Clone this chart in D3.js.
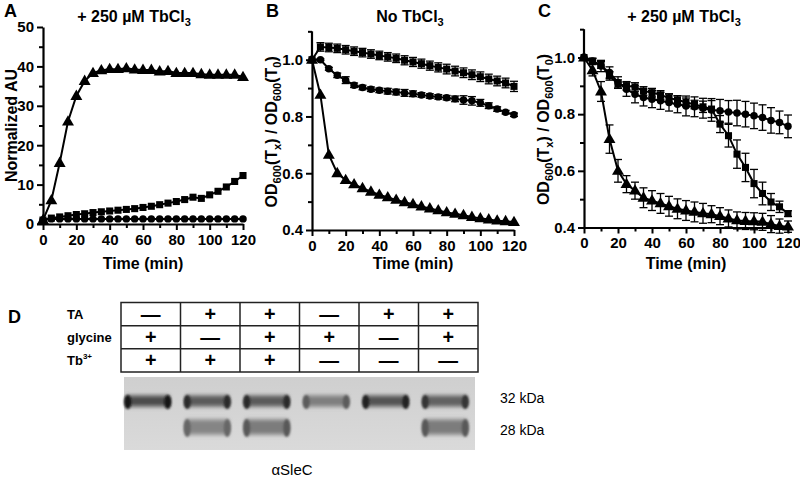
<!DOCTYPE html>
<html><head><meta charset="utf-8">
<script src="https://cdn.jsdelivr.net/npm/d3@7"></script>
<style>body{margin:0;background:#fff}svg{display:block}text{font-family:"Liberation Sans",Arial,sans-serif}</style>
</head><body><svg id="c" width="800" height="477"></svg>
<script>
// ---------- data ----------
const time = [0,5,10,15,20,25,30,35,40,45,50,55,60,65,70,75,80,85,90,95,100,105,110,115,120];
const xTicks = [0,20,40,60,80,100,120];

// Panel A (Normalized AU, + 250 µM TbCl3)
const aTri = [1,6,15.5,26,32.5,36.3,38.3,39,39.3,39.3,39.5,39.2,39.1,39.1,38.7,38.8,38.3,38.3,38.3,38,37.9,37.9,37.9,37.9,37.3];
const aSq  = [1,1.5,1.8,2.1,2.4,2.6,2.9,3.1,3.3,3.5,3.7,3.9,4.2,4.5,4.9,5.3,5.7,6.2,6.8,6.5,7.4,8.3,9.4,10.8,12.3];
const aCir = [1,1.3,1.3,1.3,1.3,1.3,1.3,1.3,1.3,1.3,1.3,1.3,1.3,1.3,1.3,1.3,1.3,1.3,1.3,1.3,1.3,1.3,1.3,1.3,1.3];
const aYTicks = [0,10,20,30,40,50];

// Panel B (No TbCl3)
const bSq  = [1.0,1.045,1.043,1.04,1.035,1.03,1.025,1.02,1.015,1.01,1.005,0.998,0.992,0.986,0.979,0.973,0.967,0.96,0.954,0.947,0.94,0.932,0.925,0.918,0.906];
const bSqE = [0,0.015,0.015,0.015,0.015,0.015,0.015,0.015,0.015,0.015,0.015,0.016,0.016,0.016,0.016,0.016,0.017,0.017,0.017,0.017,0.017,0.017,0.017,0.017,0.018];
const bCir = [1.0,1.0,0.968,0.945,0.928,0.91,0.902,0.896,0.892,0.889,0.886,0.883,0.88,0.876,0.872,0.869,0.866,0.862,0.858,0.855,0.848,0.838,0.826,0.815,0.806];
const bCirE= [0,0.003,0.005,0.008,0.012,0.008,0.008,0.008,0.008,0.01,0.01,0.012,0.01,0.008,0.008,0.008,0.008,0.01,0.015,0.015,0.012,0.01,0.008,0.006,0.006];
const bTri = [1.0,0.876,0.665,0.6,0.576,0.561,0.547,0.535,0.524,0.515,0.506,0.498,0.491,0.483,0.476,0.469,0.462,0.457,0.452,0.446,0.441,0.437,0.433,0.431,0.428];

// Panel C (+ 250 µM TbCl3)
const cCir = [1.0,0.988,0.97,0.947,0.912,0.888,0.87,0.859,0.853,0.847,0.841,0.835,0.829,0.826,0.821,0.815,0.812,0.808,0.804,0.8,0.794,0.788,0.778,0.771,0.757];
const cCirE= [0,0.01,0.02,0.02,0.02,0.025,0.03,0.03,0.03,0.03,0.03,0.03,0.035,0.035,0.035,0.04,0.04,0.04,0.045,0.045,0.045,0.045,0.045,0.04,0.04];
const cSq  = [1.0,0.986,0.974,0.935,0.906,0.9,0.896,0.882,0.876,0.868,0.857,0.85,0.842,0.834,0.826,0.818,0.765,0.724,0.659,0.612,0.555,0.52,0.49,0.473,0.449];
const cSqE = [0,0.01,0.012,0.015,0.015,0.015,0.015,0.015,0.015,0.015,0.015,0.015,0.015,0.015,0.02,0.03,0.03,0.04,0.05,0.05,0.05,0.04,0.03,0.02,0.01];
const cTri = [1.0,0.955,0.88,0.712,0.6,0.553,0.53,0.505,0.495,0.485,0.475,0.466,0.46,0.455,0.45,0.447,0.44,0.432,0.425,0.423,0.422,0.42,0.412,0.405,0.403];
const cTriE= [0,0.02,0.035,0.05,0.04,0.03,0.03,0.035,0.035,0.035,0.035,0.035,0.035,0.035,0.035,0.03,0.03,0.03,0.03,0.03,0.03,0.03,0.03,0.025,0.02];
const odYTicks = [0.4,0.6,0.8,1.0];

// Panel D (blot)
const lanes = [1,2,3,4,5,6];
const rowLabels = ["TA","glycine","Tb"];
const taSigns  = ["—","+","+","—","+","+"];
const glySigns = ["+","—","+","+","—","+"];
const tbSigns  = ["+","+","+","—","—","—"];
const band32 = [0.95,0.85,0.85,0.6,0.9,0.8];   // relative intensity
const band28 = [0,0.55,0.62,0,0,0.62];
const bandLabels = ["32 kDa","28 kDa"];

// ---------- drawing ----------
const svg = d3.select("#c");
const FONT = '"Liberation Sans",Arial,sans-serif';

function drawPanel(o){
  const g = svg.append("g");
  const x = d3.scaleLinear().domain([0,120]).range([o.x0,o.x1]);
  const y = d3.scaleLinear().domain(o.yDom).range([o.y0,o.y1]);
  g.append("g").attr("transform",`translate(0,${o.y0})`)
    .call(d3.axisBottom(x).tickValues([10,30,50,70,90,110]).tickSize(4).tickSizeOuter(0).tickFormat(""))
    .call(s=>s.select(".domain").remove()).selectAll("line").attr("stroke-width",2);
  g.append("g").attr("transform",`translate(${o.x0},0)`)
    .call(d3.axisLeft(y).tickValues(o.yMinor).tickSize(4).tickSizeOuter(0).tickFormat(""))
    .call(s=>s.select(".domain").remove()).selectAll("line").attr("stroke-width",2);
  const xa = g.append("g").attr("transform",`translate(0,${o.y0})`)
    .call(d3.axisBottom(x).tickValues(xTicks).tickSize(6).tickSizeOuter(0).tickPadding(4));
  const ya = g.append("g").attr("transform",`translate(${o.x0},0)`)
    .call(d3.axisLeft(y).tickValues(o.yTicks).tickSize(6).tickSizeOuter(0).tickPadding(3).tickFormat(o.yFmt));
  [xa,ya].forEach(a=>{
    a.select(".domain").attr("stroke-width",2.2);
    a.selectAll(".tick line").attr("stroke-width",2);
    a.selectAll("text").attr("font-family",FONT).attr("font-weight","bold").attr("font-size",15).attr("fill","#000");
  });
  if(o.yTop!==undefined){
    g.append("line").attr("x1",o.x0).attr("x2",o.x0).attr("y1",y(o.yDom[1])).attr("y2",y(o.yTop))
     .attr("stroke","#000").attr("stroke-width",2.2);
  }
  o.series.forEach(s=>{
    const pts = time.map((t,i)=>({t, v:s.v[i], e:s.e?s.e[i]:0}));
    if(s.e){
      const eb = g.append("g").attr("stroke","#000").attr("stroke-width",1.3);
      pts.filter(d=>d.e>0).forEach(d=>{
        const cx = x(d.t);
        eb.append("line").attr("x1",cx).attr("x2",cx).attr("y1",y(d.v-d.e)).attr("y2",y(d.v+d.e));
        eb.append("line").attr("x1",cx-4).attr("x2",cx+4).attr("y1",y(d.v-d.e)).attr("y2",y(d.v-d.e));
        eb.append("line").attr("x1",cx-4).attr("x2",cx+4).attr("y1",y(d.v+d.e)).attr("y2",y(d.v+d.e));
      });
    }
    g.append("path").datum(pts).attr("fill","none").attr("stroke","#000").attr("stroke-width",2)
      .attr("d",d3.line().x(d=>x(d.t)).y(d=>y(d.v)));
    const sym = d3.symbol().type(s.type).size(s.size);
    g.selectAll(null).data(pts).join("path")
      .attr("transform",d=>`translate(${x(d.t)},${y(d.v)+(s.type===d3.symbolTriangle?0.5:0)})`)
      .attr("d",sym).attr("fill","#000");
  });
  g.append("text").attr("x",o.letterX).attr("y",17).attr("font-weight","bold").attr("font-size",18).text(o.letter);
  const ti = g.append("text").attr("x",o.titleX).attr("y",22).attr("text-anchor","middle")
    .attr("font-weight","bold").attr("font-size",16);
  o.title.forEach(p=>{ const t=ti.append("tspan").text(p[0]); if(p[1]){t.attr("font-size",11).attr("dy",4);} });
  g.append("text").attr("x",(o.x0+o.x1)/2).attr("y",269).attr("text-anchor","middle")
    .attr("font-weight","bold").attr("font-size",16).text("Time (min)");
  const yl = g.append("text").attr("transform",`translate(${o.ylX},${(o.y0+o.y1)/2+ (o.ylOff||0)}) rotate(-90)`)
    .attr("text-anchor","middle").attr("font-weight","bold").attr("font-size",16);
  let sub=false;
  o.ylab.forEach(p=>{
    const t=yl.append("tspan").text(p[0]);
    if(p[1]){ t.attr("font-size",11).attr("dy",sub?0:3.5); sub=true; }
    else { t.attr("dy",sub?-3.5:0); sub=false; }
  });
}

const odLabel = [["OD"],["600",1],["(T"],["x",1],[") / OD"],["600",1],["(T"],["0",1],[")"]];

drawPanel({letter:"A",letterX:4,title:[["+ 250 µM TbCl"],["3",1]],titleX:134,
  x0:43,x1:243,y0:224,y1:27,yDom:[0,50],yTicks:aYTicks,yMinor:[5,15,25,35,45],yFmt:d3.format("d"),
  ylX:17,ylab:[["Normalized AU"]],
  series:[{v:aTri,type:d3.symbolTriangle,size:62},{v:aSq,type:d3.symbolSquare,size:50},{v:aCir,type:d3.symbolCircle,size:44}]});

drawPanel({letter:"B",letterX:266,title:[["No TbCl"],["3",1]],titleX:410,
  x0:312,x1:514,y0:230,y1:59.7,yDom:[0.4,1.0],yTop:1.1,yTicks:odYTicks,yMinor:[0.5,0.7,0.9,1.1],yFmt:d3.format(".1f"),
  ylX:277,ylOff:-13,ylab:odLabel,
  series:[{v:bSq,e:bSqE,type:d3.symbolSquare,size:50},{v:bCir,e:bCirE,type:d3.symbolCircle,size:44},{v:bTri,type:d3.symbolTriangle,size:62}]});

drawPanel({letter:"C",letterX:538,title:[["+ 250 µM TbCl"],["3",1]],titleX:684,
  x0:584,x1:788,y0:227.5,y1:57.5,yDom:[0.4,1.0],yTop:1.1,yTicks:odYTicks,yMinor:[0.5,0.7,0.9,1.1],yFmt:d3.format(".1f"),
  ylX:549,ylOff:-13,ylab:odLabel,
  series:[{v:cCir,e:cCirE,type:d3.symbolCircle,size:44},{v:cSq,e:cSqE,type:d3.symbolSquare,size:50},{v:cTri,e:cTriE,type:d3.symbolTriangle,size:62}]});

// ---------- Panel D ----------
const gD = svg.append("g");
gD.append("text").attr("x",8).attr("y",323).attr("font-weight","bold").attr("font-size",18).text("D");
const tx = d3.scaleBand().domain(lanes).range([121,478]);
const ty = d3.scaleBand().domain(rowLabels).range([302.5,372]);
rowLabels.forEach(r=>{
  const t = gD.append("text").attr("x",67).attr("y",ty(r)+ty.bandwidth()/2+4.5).attr("font-weight","bold").attr("font-size",13).text(r);
  if(r==="Tb") t.append("tspan").attr("font-size",8).attr("dy",-6).text("3+");
});
const tbl = gD.append("g").attr("stroke","#222").attr("stroke-width",1.5).attr("fill","none");
tbl.append("rect").attr("x",121).attr("y",302.5).attr("width",357).attr("height",69.5);
lanes.slice(1).forEach(l=>tbl.append("line").attr("x1",tx(l)).attr("x2",tx(l)).attr("y1",302.5).attr("y2",372));
rowLabels.slice(1).forEach(r=>tbl.append("line").attr("x1",121).attr("x2",478).attr("y1",ty(r)).attr("y2",ty(r)));
const SIGN_FS = 19.8;
[taSigns,glySigns,tbSigns].forEach((arr,ri)=>{
  arr.forEach((s,li)=>{
    const cx = tx(lanes[li])+tx.bandwidth()/2;
    const top = ty(rowLabels[ri]);
    const base = top + 0.928*SIGN_FS + (ty.bandwidth()-1.164*SIGN_FS)/2;
    gD.append("text").attr("x",cx).attr("y",base).attr("text-anchor","middle")
      .attr("font-family","'DejaVu Sans',sans-serif").attr("font-weight","bold")
      .attr("font-size",SIGN_FS).attr("fill","#000").text(s);
  });
});
// gel
const defs = svg.append("defs");
defs.append("filter").attr("id","blur").attr("x","-20%").attr("y","-60%").attr("width","140%").attr("height","220%")
  .append("feGaussianBlur").attr("stdDeviation","1.8 2.0");
defs.append("filter").attr("id","blur2").attr("x","-50%").attr("y","-50%").attr("width","200%").attr("height","200%")
  .append("feGaussianBlur").attr("stdDeviation","1.3");
const gelG = defs.append("linearGradient").attr("id","gelbg").attr("x1",0).attr("x2",0).attr("y1",0).attr("y2",1);
gelG.append("stop").attr("offset","0%").attr("stop-color","#cfcfcf");
gelG.append("stop").attr("offset","100%").attr("stop-color","#dadada");
const gelX0=124, gelX1=475, gelY0=377, gelY1=450;
gD.append("rect").attr("x",gelX0).attr("y",gelY0).attr("width",gelX1-gelX0).attr("height",gelY1-gelY0).attr("fill","url(#gelbg)");
const yb = d3.scaleOrdinal().domain(bandLabels).range([401,427]);
const gray = d3.scaleLinear().domain([0,1]).range(["#d4d4d4","#0c0c0c"]);
const bands = gD.append("g");
lanes.forEach((l,i)=>{
  const cx = tx(l)+tx.bandwidth()/2 - 3;
  const w = 46;
  [[band32[i],bandLabels[0],11],[band28[i],bandLabels[1],15]].forEach(([v,lab,h])=>{
    if(v<=0) return;
    const cy = yb(lab);
    bands.append("rect").attr("x",cx-w/2).attr("y",cy-h/2).attr("width",w).attr("height",h).attr("rx",4)
      .attr("fill",gray(v*0.72)).attr("filter","url(#blur)");
    [cx-w/2+3, cx+w/2-3].forEach(ex=>{
      bands.append("ellipse").attr("cx",ex).attr("cy",cy+1).attr("rx",3.5).attr("ry",h/2+1.5)
        .attr("fill",gray(Math.min(1,v*1.0))).attr("filter","url(#blur2)");
    });
  });
});
gD.append("text").attr("x",500).attr("y",403).attr("font-size",14).text(bandLabels[0]);
gD.append("text").attr("x",500).attr("y",435).attr("font-size",14).text(bandLabels[1]);
gD.append("text").attr("x",292).attr("y",475).attr("text-anchor","middle").attr("font-size",15).text("αSleC");
</script></body></html>
